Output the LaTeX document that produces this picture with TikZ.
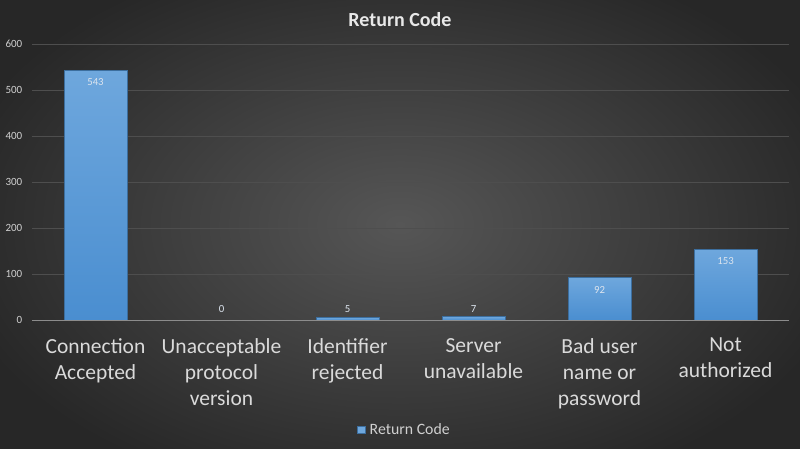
\documentclass[tikz,border=0pt]{standalone}
\usepackage{fontspec}
\setmainfont{Carlito}
\begin{document}
\begin{tikzpicture}[x=1pt,y=1pt,
  ticklab/.style={anchor=east,text=ticktxt,font=\fontsize{11}{13}\selectfont,inner sep=0pt},
  catlab/.style={anchor=north,text=cattxt,align=center,font=\fontsize{21.5}{26}\selectfont,inner sep=0pt},
  datalab/.style={text=datatxt,font=\fontsize{10.8}{12}\selectfont,inner sep=0pt},
  barstyle/.style={top color=bartop,bottom color=barbot,draw=baredge,line width=0.8pt},
  grid/.style={draw=gridcol,line width=0.9pt}]
\definecolor{bgin}{HTML}{565656}
\definecolor{bgout}{HTML}{272727}
\definecolor{ticktxt}{HTML}{D0D0D0}
\definecolor{cattxt}{HTML}{DADADA}
\definecolor{titletxt}{HTML}{E8E8E8}
\definecolor{datatxt}{HTML}{DCE4EE}
\definecolor{bartop}{HTML}{6EA7DD}
\definecolor{barbot}{HTML}{4A8ED0}
\definecolor{baredge}{HTML}{3C6E9E}
\definecolor{gridcol}{HTML}{4E4E4E}
\definecolor{axiscol}{HTML}{8C8C8C}
\useasboundingbox (0,0) rectangle (800,449);
\shade[inner color=bgin,outer color=bgout] (-60,-60) rectangle (860,509);
% grid lines (pixel y -> 449-y)
\foreach \v/\n in {100/g1,200/g2,300/g3,400/g4,500/g5,600/g6}{
  \coordinate (\n l) at (32,{129+0.46*\v});
  \coordinate (\n r) at (789,{129+0.46*\v});
  \draw[grid] (\n l) -- (\n r);
  \node[ticklab] (\n t) at (22.5,{129+0.46*\v}) {\v};
}
\node[ticklab] (g0t) at (22.5,129) {0};
% bars
\foreach \i/\v/\n in {0/543/b1,1/0/b2,2/5/b3,3/7/b4,4/92/b5,5/153/b6}{
  \pgfmathsetmacro{\cx}{95.5+126*\i}
  \ifnum\v>0
    \shade[barstyle] ({\cx-31.5},129) rectangle ({\cx+31.5},{129+0.46*\v});
  \fi
}
% axis
\coordinate (axl) at (32,129);
\coordinate (axr) at (789,129);
\draw[draw=axiscol,line width=0.9pt] (axl) -- (axr);
% data labels
\node[datalab] (d1) at (95.5,367) {543};
\node[datalab] (d2) at (221.5,140) {0};
\node[datalab] (d3) at (347.5,140) {5};
\node[datalab] (d4) at (473.5,140) {7};
\node[datalab] (d5) at (599.5,159) {92};
\node[datalab] (d6) at (725.5,188) {153};
% category labels
\node[catlab] (c1) at (95.5,111) {Connection\\Accepted};
\node[catlab] (c2) at (221.5,111) {Unacceptable\\protocol\\version};
\node[catlab] (c3) at (347.5,111) {Identifier\\rejected};
\node[catlab] (c4) at (473.5,111) {Server\\unavailable};
\node[catlab] (c5) at (599.5,111) {Bad user\\name or\\password};
\node[catlab] (c6) at (725.5,111) {Not\\authorized};
% title
\node[text=titletxt,font=\fontsize{20}{22}\selectfont\bfseries] (title) at (400,429) {Return Code};
% legend
\node[fill=bartop,draw=baredge,line width=0.4pt,minimum size=7.5pt,inner sep=0pt] (legsq) at (361,19.5) {};
\node[anchor=west,text=ticktxt,font=\fontsize{15.8}{18}\selectfont,inner sep=0pt] (legtx) at (369.5,19.5) {Return Code};
\end{tikzpicture}
\end{document}
